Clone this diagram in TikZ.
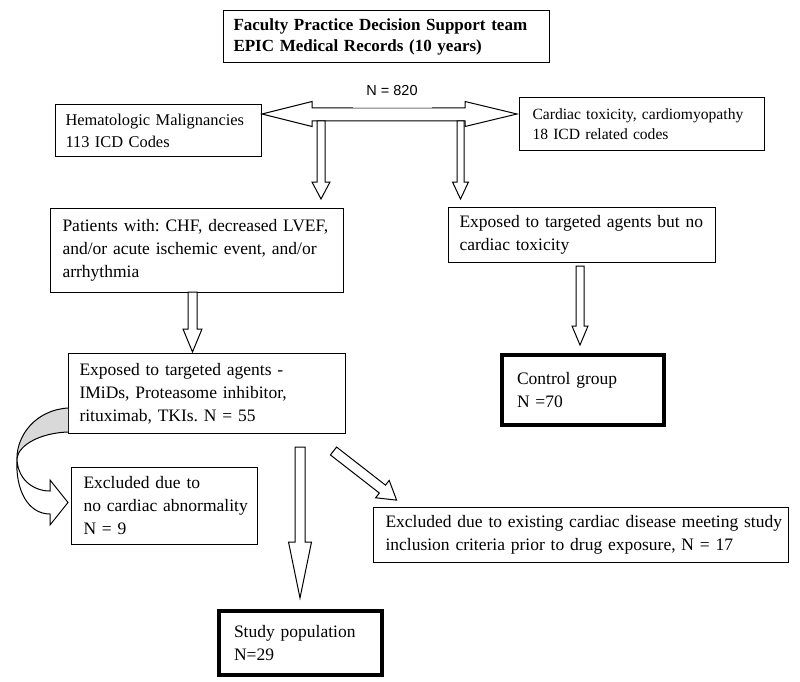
\documentclass[tikz,border=0pt]{standalone}
\usepackage{fontspec}
\setmainfont{Liberation Serif}
\newfontfamily\arialfont{Liberation Sans}
\frenchspacing
\tikzset{
  box/.style={draw, line width=1pt, anchor=north west, align=left, inner xsep=11pt, inner ysep=0pt,
    font=\fontsize{17.5}{23}\selectfont},
  thickbox/.style={box, line width=4pt, inner xsep=15pt},
  arrowbody/.style={draw, fill=white, line width=1pt, line join=miter},
  pics/barrow/.style n args={4}{code={
    \draw[arrowbody] (0,-#2) -- (#1-#4,-#2) -- (#1-#4,-#3) -- (#1,0) -- (#1-#4,#3) -- (#1-#4,#2) -- (0,#2) -- cycle;}},
}
\begin{document}
\begin{tikzpicture}[x=1pt,y=-1pt]
\useasboundingbox (0,0) rectangle (800,682);

% boxes
\node[box, font=\bfseries\fontsize{17}{21}\selectfont, inner xsep=10pt, text width=306pt, minimum height=52pt] (top) at (223,10)
  {\mbox{Faculty Practice Decision Support team}\\\mbox{EPIC Medical Records (10 years)}};
\node[box, font=\fontsize{16.4}{22}\selectfont, inner xsep=10pt, text width=186pt, minimum height=52pt] (hem) at (55,104)
  {\mbox{Hematologic Malignancies}\\\mbox{113 ICD Codes}};
\node[box, font=\fontsize{15.6}{20}\selectfont, inner xsep=13pt, text width=219pt, minimum height=53pt] (card) at (519,97)
  {\mbox{Cardiac toxicity, cardiomyopathy}\\\mbox{18 ICD related codes}};
\node[box, inner xsep=12pt, text width=269pt, minimum height=84pt] (pat) at (50,208)
  {\mbox{Patients with: CHF, decreased LVEF,}\\\mbox{and/or acute ischemic event, and/or}\\\mbox{arrhythmia}};
\node[box, text width=245pt, minimum height=55pt] (expno) at (448,207)
  {\mbox{Exposed to targeted agents but no}\\\mbox{cardiac toxicity}};
\node[box, text width=255pt, minimum height=80pt] (exp) at (68,353)
  {\mbox{Exposed to targeted agents -}\\\mbox{IMiDs, Proteasome inhibitor,}\\\mbox{rituximab, TKIs. N = 55}};
\node[thickbox, text width=132pt, minimum height=70pt] (ctrl) at (500,353)
  {\mbox{Control group}\\\mbox{N =70}};
\node[box, inner xsep=12pt, text width=162pt, minimum height=77pt] (ex9) at (71,467)
  {\mbox{Excluded due to}\\\mbox{no cardiac abnormality}\\\mbox{N = 9}};
\node[box, inner xsep=12pt, text width=391pt, minimum height=55pt] (ex17) at (373,507)
  {\mbox{Excluded due to existing cardiac disease meeting study}\\\mbox{inclusion criteria prior to drug exposure, N = 17}};
\node[thickbox, text width=133pt, minimum height=64pt] (study) at (217,609)
  {\mbox{Study population}\\\mbox{N=29}};

% double arrow with N = 820
\draw[arrowbody] (262,114) -- (312,101.5) -- (312,108) -- (465,108) -- (465,101.5) -- (517,114)
  -- (465,126.5) -- (465,121) -- (312,121) -- (312,126.5) -- cycle;
\draw[gray!35, line width=1pt] (353,108) -- (432,108);
\node[font=\arialfont\fontsize{14.5}{16}\selectfont, inner sep=0pt] (n820) at (392,91) {N = 820};

% straight block arrows
\pic[rotate=-90] at (321,121) {barrow={78}{4}{9}{17}};
\pic[rotate=-90] at (460.5,121) {barrow={78}{3.5}{8}{17}};
\pic[rotate=-90] at (192.5,292) {barrow={60}{4.5}{9.5}{23}};
\pic[rotate=-90] at (580,266) {barrow={79}{4}{8}{19}};
\pic[rotate=-90] at (300,447) {barrow={151}{5}{11.5}{56}};
\pic[rotate=-37.9] at (333.5,451) {barrow={80}{5}{11}{18}};

% curved arrow to excluded (no cardiac abnormality)
\fill[gray!30] (68,408) .. controls (36,410) and (17,435) .. (17,458)
  .. controls (19,445) and (40,433) .. (68,432) -- cycle;
\draw[line width=1pt] (68,408) .. controls (36,410) and (17,435) .. (17,458);
\draw[line width=1pt] (17,458) .. controls (19,445) and (40,433) .. (68,432);
\draw[arrowbody] (17,458) .. controls (17,478) and (32,491) .. (50,491) -- (50,480) -- (68,502.5)
  -- (50,525) -- (50,514) .. controls (28,514) and (15,490) .. (17,458) -- cycle;
\end{tikzpicture}
\end{document}
